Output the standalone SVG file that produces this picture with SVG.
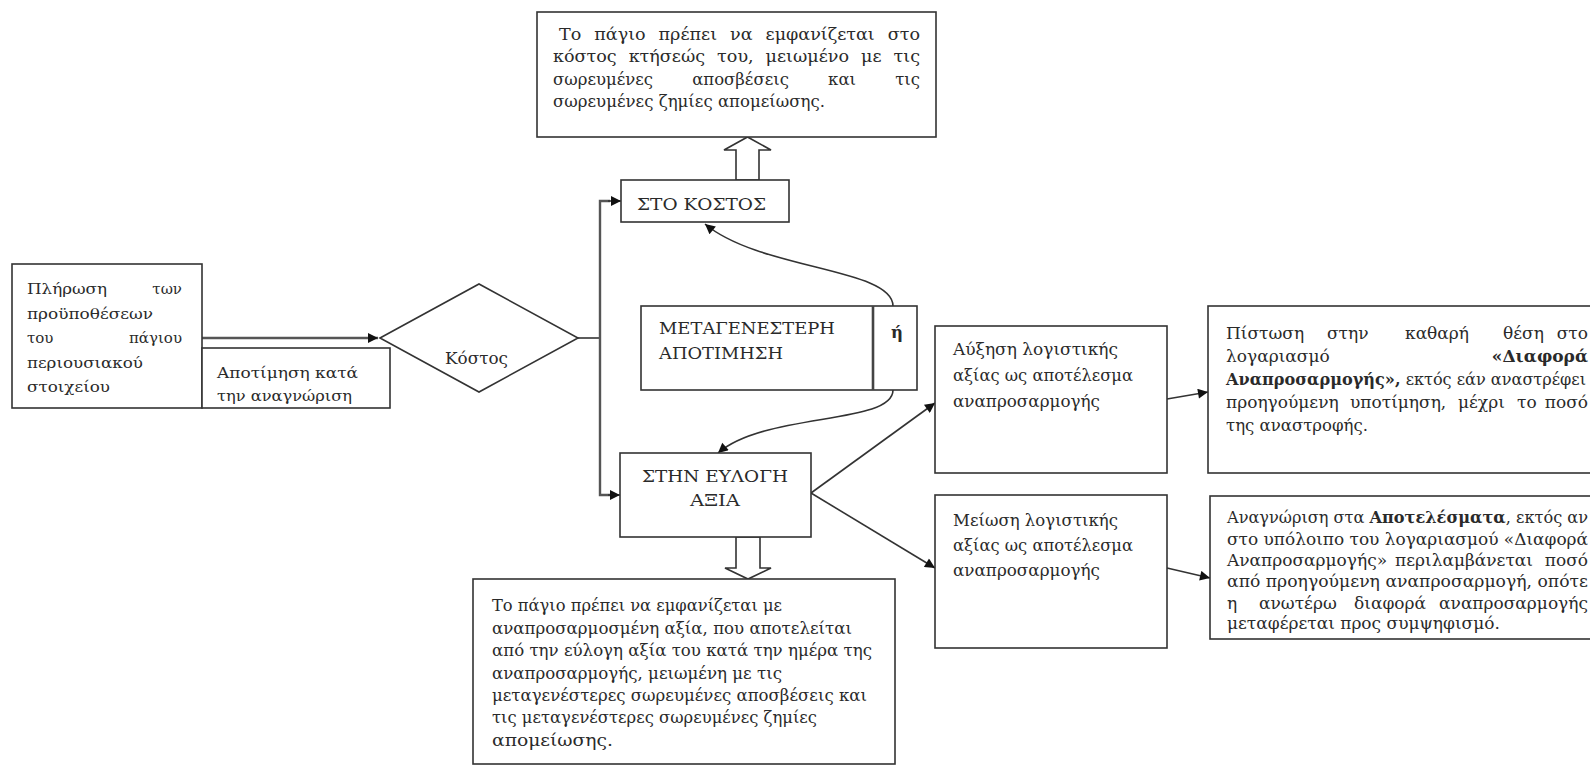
<svg xmlns="http://www.w3.org/2000/svg" width="1590" height="765" viewBox="0 0 1590 765">
<style>
text{font-family:"DejaVu Serif","Liberation Serif",serif;font-size:16.5px;fill:#2a2a2a}
.b{font-weight:bold}
.e{text-anchor:end}
.s15{font-size:15px}
.s16{font-size:16px}
.s17{font-size:17px}
.box{fill:#fff;stroke:#333;stroke-width:1.6}
.ln{fill:none;stroke:#333;stroke-width:1.6}
.dbl{fill:none;stroke:#555;stroke-width:2.4}
.hol{fill:#fff;stroke:#333;stroke-width:1.6;stroke-linejoin:miter}
</style>
<defs>
<marker id="arr" viewBox="0 0 10 10" refX="10" refY="5" markerWidth="12" markerHeight="10" markerUnits="userSpaceOnUse" orient="auto">
<path d="M0,0 L10,5 L0,10 z" fill="#111"/>
</marker>
</defs>
<rect width="1590" height="765" fill="#fff"/>

<g id="connectors">
<line class="dbl" x1="202" y1="338" x2="378" y2="338" marker-end="url(#arr)"/>
<line class="ln" x1="578" y1="338" x2="600" y2="338"/>
<polyline class="dbl" points="610,201 600,201 600,495 610,495"/>
<line class="ln" x1="608" y1="201" x2="621" y2="201" marker-end="url(#arr)"/>
<line class="ln" x1="608" y1="495" x2="620" y2="495" marker-end="url(#arr)"/>
<path class="ln" d="M893,306 C893,268 760,270 705,224" marker-end="url(#arr)"/>
<path class="ln" d="M893,390 C893,425 765,412 718,453" marker-end="url(#arr)"/>
<line class="ln" x1="811" y1="493" x2="935" y2="403" marker-end="url(#arr)"/>
<line class="ln" x1="811" y1="493" x2="935" y2="568" marker-end="url(#arr)"/>
<line class="ln" x1="1167" y1="399" x2="1208" y2="392" marker-end="url(#arr)"/>
<line class="ln" x1="1167" y1="568" x2="1210" y2="578" marker-end="url(#arr)"/>
<polygon class="hol" points="736,180 736,150 724,150 747.5,137 771,150 759,150 759,180"/>
<polygon class="hol" points="736,537 736,568 725,568 748,579 771,568 760,568 760,537"/>
</g>

<g id="n-top">
<rect class="box" x="537" y="12" width="399" height="125"/>
<text x="559" y="40" word-spacing="7" textLength="361" lengthAdjust="spacingAndGlyphs">Το πάγιο πρέπει να εμφανίζεται στο</text>
<text x="553" y="62" word-spacing="6" textLength="367" lengthAdjust="spacingAndGlyphs">κόστος κτήσεώς του, μειωμένο με τις</text>
<text x="553" y="85" word-spacing="34" textLength="367" lengthAdjust="spacingAndGlyphs">σωρευμένες αποσβέσεις και τις</text>
<text x="553" y="107" textLength="272" lengthAdjust="spacingAndGlyphs">σωρευμένες ζημίες απομείωσης.</text>
</g>

<g id="n-stokostos">
<rect class="box" x="621" y="180" width="168" height="42"/>
<text x="637" y="210" textLength="129" lengthAdjust="spacingAndGlyphs">ΣΤΟ ΚΟΣΤΟΣ</text>
</g>

<g id="n-left">
<rect class="box" x="12" y="264" width="190" height="144"/>
<text y="294" class="s15"><tspan x="27" textLength="80" lengthAdjust="spacingAndGlyphs">Πλήρωση</tspan><tspan x="182" class="e">των</tspan></text>
<text x="27" y="319" class="s15" textLength="126" lengthAdjust="spacingAndGlyphs">προϋποθέσεων</text>
<text y="343" class="s15"><tspan x="27">του</tspan><tspan x="182" class="e">πάγιου</tspan></text>
<text x="27" y="368" class="s15" textLength="116" lengthAdjust="spacingAndGlyphs">περιουσιακού</text>
<text x="27" y="392" class="s15" textLength="83" lengthAdjust="spacingAndGlyphs">στοιχείου</text>
</g>

<g id="n-apotimisi">
<rect class="box" x="202" y="348" width="188" height="60"/>
<text x="217" y="378" class="s15" textLength="141" lengthAdjust="spacingAndGlyphs">Αποτίμηση κατά</text>
<text x="217" y="401" class="s15" textLength="135" lengthAdjust="spacingAndGlyphs">την αναγνώριση</text>
</g>

<g id="n-kostos">
<polygon class="box" points="380,338 479,284 578,338 479,392"/>
<text x="445" y="364" textLength="63" lengthAdjust="spacingAndGlyphs">Κόστος</text>
</g>

<g id="n-metag">
<rect class="box" x="641" y="306" width="276" height="84"/>
<line x1="873" y1="306" x2="873" y2="390" stroke="#444" stroke-width="2.6"/>
<text x="659" y="334" textLength="176" lengthAdjust="spacingAndGlyphs">ΜΕΤΑΓΕΝΕΣΤΕΡΗ</text>
<text x="659" y="359" textLength="124" lengthAdjust="spacingAndGlyphs">ΑΠΟΤΙΜΗΣΗ</text>
<text x="897" y="338" text-anchor="middle" class="b">ή</text>
</g>

<g id="n-eyl">
<rect class="box" x="620" y="453" width="191" height="84"/>
<text x="642" y="482" textLength="146" lengthAdjust="spacingAndGlyphs">ΣΤΗΝ ΕΥΛΟΓΗ</text>
<text x="690" y="506" textLength="50" lengthAdjust="spacingAndGlyphs">ΑΞΙΑ</text>
</g>

<g id="n-bottom">
<rect class="box" x="473" y="579" width="422" height="185"/>
<text x="492" y="611" textLength="290" lengthAdjust="spacingAndGlyphs">Το πάγιο πρέπει να εμφανίζεται με</text>
<text x="492" y="634" textLength="360" lengthAdjust="spacingAndGlyphs">αναπροσαρμοσμένη αξία, που αποτελείται</text>
<text x="492" y="656" textLength="380" lengthAdjust="spacingAndGlyphs">από την εύλογη αξία του κατά την ημέρα της</text>
<text x="492" y="679" textLength="290" lengthAdjust="spacingAndGlyphs">αναπροσαρμογής, μειωμένη με τις</text>
<text x="492" y="701" textLength="375" lengthAdjust="spacingAndGlyphs">μεταγενέστερες σωρευμένες αποσβέσεις και</text>
<text x="492" y="723" textLength="325" lengthAdjust="spacingAndGlyphs">τις μεταγενέστερες σωρευμένες ζημίες</text>
<text x="492" y="746" textLength="121" lengthAdjust="spacingAndGlyphs">απομείωσης.</text>
</g>

<g id="n-ayxisi">
<rect class="box" x="935" y="326" width="232" height="147"/>
<text x="953" y="355" textLength="165" lengthAdjust="spacingAndGlyphs">Αύξηση λογιστικής</text>
<text x="953" y="381" textLength="180" lengthAdjust="spacingAndGlyphs">αξίας ως αποτέλεσμα</text>
<text x="953" y="407" textLength="147" lengthAdjust="spacingAndGlyphs">αναπροσαρμογής</text>
</g>

<g id="n-meiosi">
<rect class="box" x="935" y="495" width="232" height="153"/>
<text x="953" y="526" textLength="165" lengthAdjust="spacingAndGlyphs">Μείωση λογιστικής</text>
<text x="953" y="551" textLength="180" lengthAdjust="spacingAndGlyphs">αξίας ως αποτέλεσμα</text>
<text x="953" y="576" textLength="147" lengthAdjust="spacingAndGlyphs">αναπροσαρμογής</text>
</g>

<g id="n-pistosi">
<rect class="box" x="1208" y="306" width="400" height="167"/>
<text y="339" class="s17"><tspan x="1226">Πίστωση</tspan><tspan x="1327">στην</tspan><tspan x="1405">καθαρή</tspan><tspan x="1503">θέση</tspan><tspan x="1588" class="e">στο</tspan></text>
<text y="362" class="s17"><tspan x="1226">λογαριασμό</tspan><tspan x="1588" class="b e">«Διαφορά</tspan></text>
<text x="1226" y="385" class="s16" textLength="360" lengthAdjust="spacingAndGlyphs"><tspan class="b">Αναπροσαρμογής»,</tspan> εκτός εάν αναστρέφει</text>
<text y="408" class="s17"><tspan x="1226">προηγούμενη</tspan><tspan x="1350">υποτίμηση,</tspan><tspan x="1458">μέχρι</tspan><tspan x="1517">το</tspan><tspan x="1588" class="e">ποσό</tspan></text>
<text x="1226" y="431" class="s17" textLength="142" lengthAdjust="spacingAndGlyphs">της αναστροφής.</text>
</g>

<g id="n-anagnorisi">
<rect class="box" x="1210" y="496" width="400" height="143"/>
<text x="1227" y="523" class="s17" textLength="361" lengthAdjust="spacingAndGlyphs">Αναγνώριση στα <tspan class="b">Αποτελέσματα</tspan>, εκτός αν</text>
<text x="1227" y="545" class="s17" textLength="361" lengthAdjust="spacingAndGlyphs">στο υπόλοιπο του λογαριασμού «Διαφορά</text>
<text y="566" class="s17"><tspan x="1227">Αναπροσαρμογής»</tspan><tspan x="1395">περιλαμβάνεται</tspan><tspan x="1588" class="e">ποσό</tspan></text>
<text x="1227" y="587" class="s17" textLength="361" lengthAdjust="spacingAndGlyphs">από προηγούμενη αναπροσαρμογή, οπότε</text>
<text y="609" class="s17"><tspan x="1227">η</tspan><tspan x="1259">ανωτέρω</tspan><tspan x="1354">διαφορά</tspan><tspan x="1588" class="e">αναπροσαρμογής</tspan></text>
<text x="1227" y="629" class="s17">μεταφέρεται προς συμψηφισμό.</text>
</g>
</svg>
